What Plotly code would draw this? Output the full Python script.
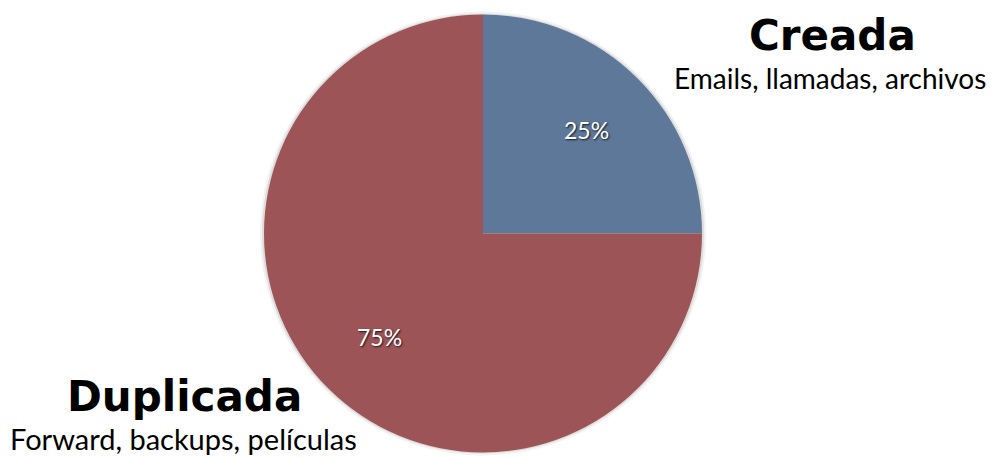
import math
import plotly.graph_objects as go

labels = ["Creada", "Duplicada"]
values = [25, 75]
subtitles = ["Emails, llamadas, archivos", "Forward, backups, películas"]
colors = ["#5d7898", "#9d5457"]

W, H = 997, 457
OFF = 8  # page body margin
cx, cy, r = 483 - OFF, 233.5 - OFF, 219

fig = go.Figure()
fig.add_trace(go.Pie(
    labels=labels,
    values=values,
    sort=False,
    direction="clockwise",
    rotation=0,
    marker=dict(colors=colors, line=dict(width=0)),
    textinfo="none",
    domain=dict(x=[(cx - r) / W, (cx + r) / W],
                y=[(H - cy - r) / H, (H - cy + r) / H]),
    showlegend=False,
    hoverinfo="label+percent",
))

# soft shadow behind the pie
for d, a in [(4, 0.05), (2, 0.09)]:
    fig.add_shape(type="circle", xref="paper", yref="paper", layer="below",
                  x0=(cx - r - d) / W, x1=(cx + r + d) / W,
                  y0=(H - cy - r - d + 1) / H, y1=(H - cy + r + d - 1) / H,
                  fillcolor="rgba(0,0,0,%s)" % a, line=dict(width=0))

# percentage labels on the slice bisectors
total = sum(values)
start = 0
for v in values:
    mid = (start + v / 2) / total * 2 * math.pi
    start += v
    px = cx + 0.67 * r * math.sin(mid)
    py = cy - 0.67 * r * math.cos(mid)
    fig.add_annotation(x=px / W, y=1 - py / H, xref="paper", yref="paper",
                       xanchor="center", yanchor="middle", showarrow=False,
                       text="%d%%" % round(v / total * 100),
                       font=dict(family="Lato", size=23, color="white",
                                 shadow="1px 1px 2px rgba(0,0,0,0.8)"))

title_pos = [(832, 35), (184, 396)]
sub_pos = [(830, 78), (183, 438)]
sub_size = [28, 29]
for i in range(2):
    fig.add_annotation(x=(title_pos[i][0] - OFF) / W, y=1 - (title_pos[i][1] - OFF) / H,
                       xref="paper", yref="paper", showarrow=False,
                       xanchor="center", yanchor="middle",
                       text="<b>%s</b>" % labels[i],
                       font=dict(family="DejaVu Sans", size=42, color="black"))
    fig.add_annotation(x=(sub_pos[i][0] - OFF) / W, y=1 - (sub_pos[i][1] - OFF) / H,
                       xref="paper", yref="paper", showarrow=False,
                       xanchor="center", yanchor="middle",
                       text=subtitles[i],
                       font=dict(family="Lato", size=sub_size[i], color="black"))

fig.update_layout(width=W, height=H, margin=dict(l=0, r=0, t=0, b=0),
                  paper_bgcolor="white", plot_bgcolor="white")
fig.write_html("out.html")
